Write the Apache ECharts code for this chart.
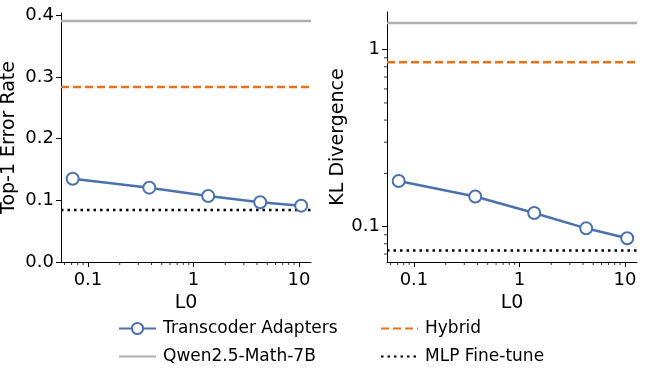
<!DOCTYPE html>
<html>
<head>
<meta charset="utf-8">
<script src="https://cdn.jsdelivr.net/npm/echarts@6/dist/echarts.min.js"></script>
<style>
  html, body { margin: 0; padding: 0; background: #fff; }
  #chart { width: 646px; height: 382px; }
</style>
</head>
<body>
<div id="chart"></div>
<script>
// L0 values of the transcoder adapter runs
var l0 = [0.0716, 0.381, 1.38, 4.29, 10.5];

// left panel: top-1 error rate
var errAdapters = [0.135, 0.1206, 0.107, 0.097, 0.0914];
var errQwen = 0.391;
var errHybrid = 0.284;
var errMlp = 0.0844;

// right panel: KL divergence
var klAdapters = [0.181, 0.148, 0.1195, 0.0978, 0.0859];
var klQwen = 1.415;
var klHybrid = 0.848;
var klMlp = 0.0732;

// axis limits
var xMin = 0.0555, xMax = 13.0;
var errMin = 0, errMax = 0.404;
var klMin = 0.0631, klMax = 1.633;

var xMinorTicks = [0.06, 0.07, 0.08, 0.09, 0.2, 0.3, 0.4, 0.5, 0.6, 0.7, 0.8, 0.9, 2, 3, 4, 5, 6, 7, 8, 9];
var klMinorTicks = [0.07, 0.08, 0.09, 0.2, 0.3, 0.4, 0.5, 0.6, 0.7, 0.8, 0.9];

var FONT = 'DejaVu Sans';
var BLUE = '#4a72b0', ORANGE = '#e8711c', GRAY = '#b0b0b0';

function pairs(xs, ys) {
    return xs.map(function (x, i) { return [x, ys[i]]; });
}

function flat(y) {
    return [[xMin, y], [xMax, y]];
}

function xAxisOpt(idx) {
    return {
        type: 'log', gridIndex: idx, min: xMin, max: xMax, logBase: 10,
        name: 'L0', nameLocation: 'middle', nameGap: 31,
        nameTextStyle: {fontFamily: FONT, fontSize: 19, color: '#000'},
        axisLine: {onZero: false, lineStyle: {color: '#000', width: 1}},
        axisTick: {length: 5, lineStyle: {color: '#000'}},
        axisLabel: {
            fontFamily: FONT, fontSize: 18, color: '#000', margin: 9,
            showMinLabel: false, showMaxLabel: false,
            formatter: function (v) { return String(+v.toPrecision(3)); }
        },
        splitLine: {show: false}
    };
}

// short minor tick marks along the x axis (drawn through the axis scale)
function xMinorSeries(idx, yBottom) {
    return {
        type: 'custom', xAxisIndex: idx, yAxisIndex: idx, silent: true, z: 5,
        data: xMinorTicks.map(function (v) { return [v, yBottom]; }),
        renderItem: function (params, api) {
            var p = api.coord([api.value(0), api.value(1)]);
            return {type: 'line', shape: {x1: p[0], y1: p[1], x2: p[0], y2: p[1] + 3},
                style: {stroke: '#000', lineWidth: 0.8}};
        }
    };
}

function yMinorSeries(idx, vals) {
    return {
        type: 'custom', xAxisIndex: idx, yAxisIndex: idx, silent: true, z: 5,
        data: vals.map(function (v) { return [xMin, v]; }),
        renderItem: function (params, api) {
            var p = api.coord([api.value(0), api.value(1)]);
            return {type: 'line', shape: {x1: p[0] - 3, y1: p[1], x2: p[0], y2: p[1]},
                style: {stroke: '#000', lineWidth: 0.8}};
        }
    };
}

function lineSet(idx, adapters, qwen, hybrid, mlp) {
    return [
        {
            name: 'Qwen2.5-Math-7B', type: 'line', xAxisIndex: idx, yAxisIndex: idx,
            data: flat(qwen), symbol: 'none', silent: true,
            lineStyle: {color: GRAY, width: 2.5}, itemStyle: {color: GRAY}
        },
        {
            name: 'Hybrid', type: 'line', xAxisIndex: idx, yAxisIndex: idx,
            data: flat(hybrid), symbol: 'none', silent: true,
            lineStyle: {color: ORANGE, width: 2.5, type: [8, 4]}, itemStyle: {color: ORANGE}
        },
        {
            name: 'MLP Fine-tune', type: 'line', xAxisIndex: idx, yAxisIndex: idx,
            data: flat(mlp), symbol: 'none', silent: true,
            lineStyle: {color: '#000', width: 2.5, type: [2.5, 4]}, itemStyle: {color: '#000'}
        },
        {
            name: 'Transcoder Adapters', type: 'line', xAxisIndex: idx, yAxisIndex: idx,
            data: pairs(l0, adapters), symbol: 'circle', symbolSize: 12, z: 4,
            lineStyle: {color: BLUE, width: 2.5},
            itemStyle: {color: '#fff', borderColor: BLUE, borderWidth: 2}
        }
    ];
}

var chart = echarts.init(document.getElementById('chart'));

var legendText = {fontFamily: FONT, fontSize: 17, color: '#000', padding: [0, 0, 0, 2]};
var noMarker = {opacity: 0};

var option = {
    animation: false,
    backgroundColor: '#fff',
    grid: [
        {left: 61, top: 13, width: 250, height: 249, outerBoundsMode: 'none'},
        {left: 387, top: 12, width: 250, height: 250, outerBoundsMode: 'none'}
    ],
    xAxis: [xAxisOpt(0), xAxisOpt(1)],
    yAxis: [
        {
            type: 'value', gridIndex: 0, min: errMin, max: errMax, interval: 0.1,
            name: 'Top-1 Error Rate', nameLocation: 'middle', nameGap: 42,
            nameTextStyle: {fontFamily: FONT, fontSize: 19, color: '#000'},
            axisLine: {show: true, lineStyle: {color: '#000', width: 1}},
            axisTick: {show: true, length: 5, lineStyle: {color: '#000'}},
            axisLabel: {
                fontFamily: FONT, fontSize: 18, color: '#000', margin: 7,
                showMaxLabel: false,
                formatter: function (v) { return v.toFixed(1); }
            },
            splitLine: {show: false}
        },
        {
            type: 'log', gridIndex: 1, min: klMin, max: klMax, logBase: 10,
            name: 'KL Divergence', nameLocation: 'middle', nameGap: 32,
            nameTextStyle: {fontFamily: FONT, fontSize: 19, color: '#000'},
            axisLine: {show: true, lineStyle: {color: '#000', width: 1}},
            axisTick: {show: true, length: 5, lineStyle: {color: '#000'}},
            axisLabel: {
                fontFamily: FONT, fontSize: 18, color: '#000', margin: 7,
                showMinLabel: false, showMaxLabel: false,
                formatter: function (v) { return String(+v.toPrecision(3)); }
            },
            splitLine: {show: false}
        }
    ],
    legend: [
        {
            orient: 'vertical', left: 113, top: 315, itemWidth: 37, itemHeight: 14, itemGap: 11,
            textStyle: legendText, selectedMode: false,
            data: [{name: 'Transcoder Adapters'}, {name: 'Qwen2.5-Math-7B', itemStyle: noMarker}]
        },
        {
            orient: 'vertical', left: 375, top: 315, itemWidth: 37, itemHeight: 14, itemGap: 11,
            textStyle: legendText, selectedMode: false,
            data: [{name: 'Hybrid', itemStyle: noMarker}, {name: 'MLP Fine-tune', itemStyle: noMarker}]
        }
    ],
    series: []
        .concat(lineSet(0, errAdapters, errQwen, errHybrid, errMlp))
        .concat(lineSet(1, klAdapters, klQwen, klHybrid, klMlp))
        .concat([xMinorSeries(0, errMin), xMinorSeries(1, klMin), yMinorSeries(1, klMinorTicks)])
};

chart.setOption(option);
</script>
</body>
</html>
